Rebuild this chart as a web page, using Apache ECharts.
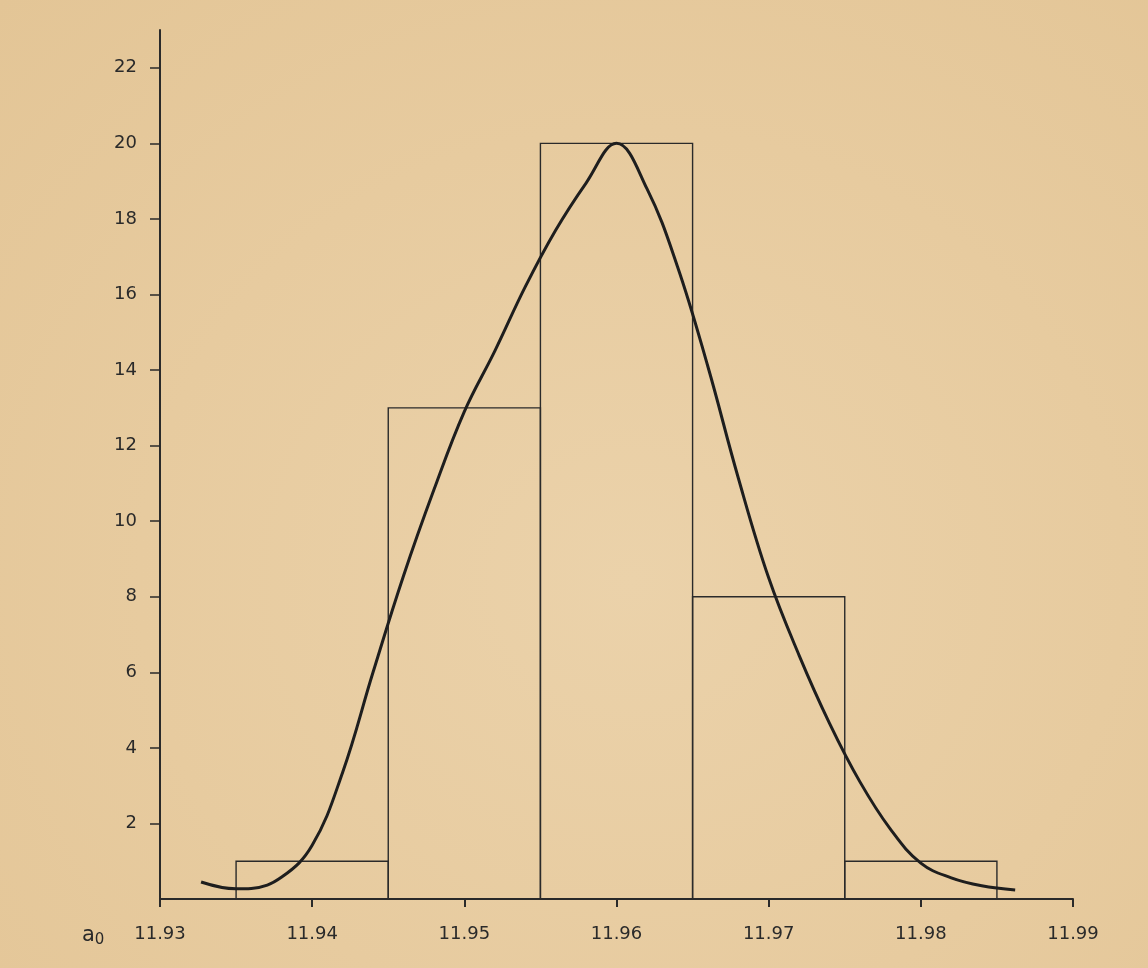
<!DOCTYPE html>
<html>
<head>
<meta charset="utf-8">
<title>a0 histogram</title>
<script src="https://cdn.jsdelivr.net/npm/echarts@6/dist/echarts.min.js"></script>
<style>
  html, body {
    margin: 0;
    padding: 0;
    background: radial-gradient(ellipse at 55% 60%, #ebd2aa 0%, #e7cb9f 55%, #e3c596 100%);
  }
  #myChart {
    width: 1148px;
    height: 968px;
  }
</style>
</head>
<body>
<div id="myChart"></div>
<script>
// bin edges and counts of the histogram
const binEdges = [11.935, 11.945, 11.955, 11.965, 11.975, 11.985]
const binCounts = [1, 13, 20, 8, 1]

// fitted curve
const curveX = [
  11.9327, 11.935, 11.936, 11.938, 11.940, 11.942, 11.944, 11.946,
  11.948, 11.950, 11.952, 11.954, 11.956, 11.958, 11.960, 11.962,
  11.964, 11.966, 11.968, 11.970, 11.972, 11.974, 11.976, 11.978,
  11.980, 11.982, 11.984, 11.9862
]
const curveY = [
  0.45, 0.27, 0.28, 0.58, 1.42, 3.35, 6.0, 8.55,
  10.83, 12.9, 14.5, 16.2, 17.7, 18.95, 20.0, 18.8,
  16.75, 14.1, 11.15, 8.5, 6.45, 4.65, 3.1, 1.85,
  0.95, 0.56, 0.35, 0.24
]

// tick labels
const xTicks = [11.93, 11.94, 11.95, 11.96, 11.97, 11.98, 11.99]
const yTicks = [2, 4, 6, 8, 10, 12, 14, 16, 18, 20, 22]

const ink = '#2a2a2a'
const font = 'DejaVu Sans'

const bins = binCounts.map((c, i) => [binEdges[i], binEdges[i + 1], c])
const curve = curveX.map((x, i) => [x, curveY[i]])

const myChart = echarts.init(document.getElementById('myChart'))
const option = {
  animation: false,
  grid: {
    left: 160,
    right: 75,
    top: 30,
    bottom: 69
  },
  xAxis: {
    type: 'value',
    min: 11.93,
    max: 11.99,
    splitLine: { show: false },
    axisLine: {
      onZero: false,
      lineStyle: { color: ink, width: 2 }
    },
    axisTick: {
      customValues: xTicks,
      length: 8,
      lineStyle: { color: ink, width: 2 }
    },
    axisLabel: {
      customValues: xTicks,
      margin: 26,
      color: ink,
      fontFamily: font,
      fontSize: 18,
      formatter: (v) => v.toFixed(2)
    }
  },
  yAxis: {
    type: 'value',
    min: 0,
    max: 23,
    splitLine: { show: false },
    axisLine: {
      show: true,
      lineStyle: { color: ink, width: 2 }
    },
    axisTick: {
      show: true,
      customValues: yTicks,
      length: 10,
      lineStyle: { color: ink, width: 1.5 }
    },
    axisLabel: {
      customValues: yTicks,
      margin: 23,
      color: ink,
      fontFamily: font,
      fontSize: 18
    }
  },
  // axis symbol a0 at the left of the x labels
  graphic: [
    {
      type: 'text',
      left: 82,
      top: 925,
      style: {
        text: '{a|a}{s|0}',
        rich: {
          a: { fontSize: 21, fontFamily: font, fill: ink },
          s: { fontSize: 15, fontFamily: font, fill: ink, padding: [10, 0, 0, 0] }
        }
      }
    }
  ],
  series: [
    {
      type: 'custom',
      data: bins,
      encode: { x: [0, 1], y: 2 },
      renderItem: function (params, api) {
        const p0 = api.coord([api.value(0), 0])
        const p1 = api.coord([api.value(1), api.value(2)])
        return {
          type: 'rect',
          shape: {
            x: p0[0],
            y: p1[1],
            width: p1[0] - p0[0],
            height: p0[1] - p1[1]
          },
          style: {
            fill: 'none',
            stroke: ink,
            lineWidth: 1.4
          }
        }
      },
      z: 2
    },
    {
      type: 'line',
      data: curve,
      smooth: 0.4,
      showSymbol: false,
      lineStyle: { color: '#1e1e1e', width: 3 },
      z: 3
    }
  ]
}
myChart.setOption(option)
</script>
</body>
</html>
